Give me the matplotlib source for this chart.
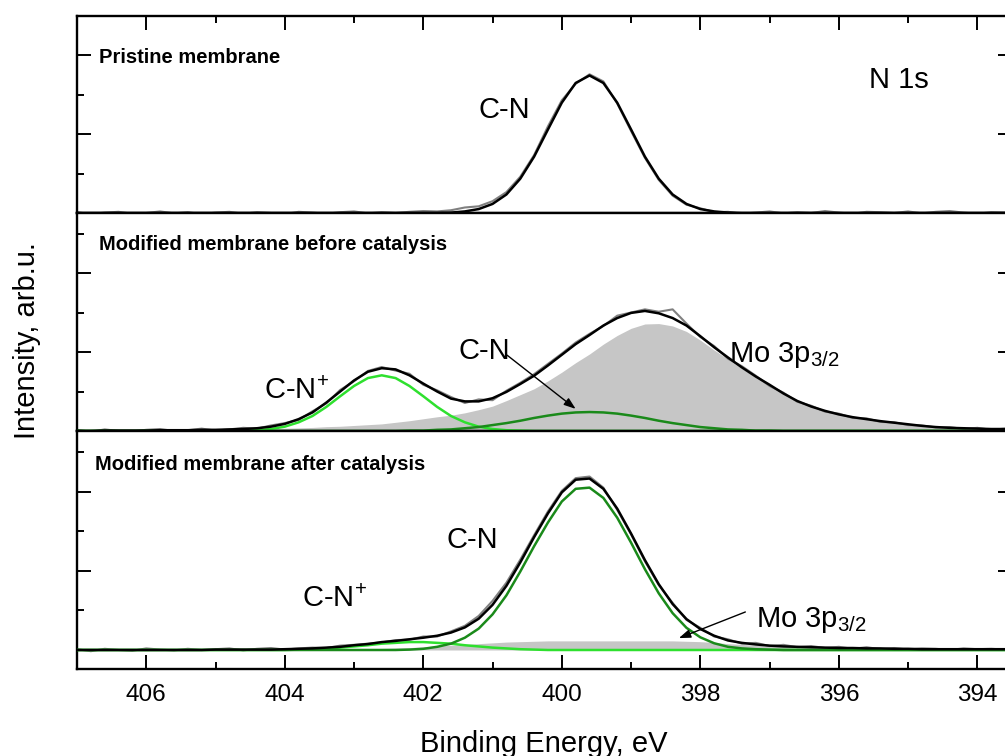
import numpy as np
import matplotlib
matplotlib.use('Agg')
import matplotlib.pyplot as plt
from matplotlib.ticker import MultipleLocator

plt.rcParams['font.family'] = ['Liberation Sans', 'DejaVu Sans']
plt.rcParams['mathtext.fontset'] = 'custom'
plt.rcParams['mathtext.rm'] = 'Liberation Sans'

# binding energy grid, eV (407.0 ... 393.6, step 0.2)
binding_energy = np.linspace(407.0, 393.6, 68)

# --- pristine membrane ---
pristine_raw = [0.02, -0.03, 0.01, 0.03, -0.02, 0.00, 0.04, -0.01, 0.02, -0.03, 0.01, 0.03,
                -0.02, 0.02, 0.00, -0.03, 0.03, 0.01, -0.02, 0.02, 0.04, -0.01, 0.02, 0.00,
                0.03, 0.05, 0.04, 0.07, 0.14, 0.17, 0.30, 0.53, 0.92, 1.47, 2.20, 2.86,
                3.28, 3.52, 3.34, 2.78, 2.08, 1.40, 0.84, 0.44, 0.21, 0.12, 0.02, 0.03,
                -0.02, 0.01, 0.04, -0.01, 0.02, 0.00, 0.05, 0.01, -0.02, 0.03, 0.02, 0.00,
                0.04, -0.01, 0.03, 0.05, 0.01, -0.02, 0.02, 0.01]
pristine_fit = [0.00, 0.00, 0.00, 0.00, 0.00, 0.00, 0.00, 0.00, 0.00, 0.00, 0.00, 0.00,
                0.00, 0.00, 0.00, 0.00, 0.00, 0.00, 0.00, 0.00, 0.00, 0.00, 0.00, 0.00,
                0.00, 0.00, 0.00, 0.01, 0.04, 0.10, 0.23, 0.47, 0.87, 1.43, 2.12, 2.80,
                3.30, 3.49, 3.30, 2.80, 2.12, 1.43, 0.87, 0.47, 0.23, 0.10, 0.04, 0.01,
                0.00, 0.00, 0.00, 0.00, 0.00, 0.00, 0.00, 0.00, 0.00, 0.00, 0.00, 0.00,
                0.00, 0.00, 0.00, 0.00, 0.00, 0.00, 0.00, 0.00]

# --- modified membrane before catalysis ---
before_raw = [0.03, -0.02, 0.04, 0.00, -0.01, 0.03, 0.05, 0.00, 0.02, 0.06, 0.01, 0.04,
              0.08, 0.06, 0.14, 0.20, 0.28, 0.50, 0.70, 1.04, 1.26, 1.52, 1.62,
              1.53, 1.45, 1.17, 1.03, 0.86, 0.71, 0.80, 0.78, 1.02, 1.22,
              1.44, 1.70, 1.96, 2.24, 2.46, 2.66, 2.92, 3.00, 3.08, 3.02,
              3.08, 2.72, 2.38, 2.15, 1.83, 1.64, 1.40, 1.14, 0.97, 0.74,
              0.64, 0.49, 0.44, 0.33, 0.32, 0.23, 0.22, 0.15, 0.14, 0.09, 0.10, 0.05,
              0.08, 0.03, 0.06]
before_fit = [0.00, 0.00, 0.01, 0.01, 0.01, 0.01, 0.02, 0.02, 0.02, 0.03, 0.03, 0.04,
              0.05, 0.07, 0.11, 0.18, 0.30, 0.47, 0.72, 1.00, 1.28, 1.50, 1.59,
              1.56, 1.41, 1.20, 1.00, 0.82, 0.75, 0.75, 0.83, 0.99, 1.19,
              1.40, 1.66, 1.93, 2.20, 2.43, 2.67, 2.86, 2.99, 3.04, 2.98,
              2.86, 2.67, 2.40, 2.12, 1.86, 1.61, 1.38, 1.17, 0.95, 0.76,
              0.62, 0.51, 0.42, 0.35, 0.30, 0.25, 0.21, 0.17, 0.13, 0.10, 0.08, 0.07,
              0.06, 0.05, 0.05]
before_mo = [0.00, 0.00, 0.01, 0.01, 0.01, 0.01, 0.02, 0.02, 0.02, 0.03, 0.03, 0.04,
             0.04, 0.05, 0.06, 0.07, 0.08, 0.09, 0.11, 0.12, 0.14, 0.16, 0.18,
             0.22, 0.26, 0.31, 0.36, 0.40, 0.46, 0.54, 0.63, 0.77, 0.92,
             1.07, 1.27, 1.49, 1.73, 1.95, 2.20, 2.42, 2.60, 2.71, 2.72,
             2.66, 2.52, 2.30, 2.05, 1.82, 1.58, 1.37, 1.16, 0.95, 0.76,
             0.62, 0.51, 0.42, 0.35, 0.30, 0.25, 0.21, 0.17, 0.13, 0.10, 0.08, 0.07,
             0.06, 0.05, 0.05]
before_cn_plus = [0.00, 0.00, 0.00, 0.00, 0.00, 0.00, 0.00, 0.00, 0.00, 0.00, 0.00, 0.00,
                  0.01, 0.02, 0.05, 0.11, 0.22, 0.38, 0.61, 0.88, 1.14, 1.34, 1.41,
                  1.34, 1.14, 0.88, 0.61, 0.38, 0.22, 0.11, 0.05, 0.02, 0.01,
                  0.00, 0.00, 0.00, 0.00, 0.00, 0.00, 0.00, 0.00, 0.00, 0.00,
                  0.00, 0.00, 0.00, 0.00, 0.00, 0.00, 0.00, 0.00, 0.00, 0.00,
                  0.00, 0.00, 0.00, 0.00, 0.00, 0.00, 0.00, 0.00, 0.00, 0.00, 0.00, 0.00,
                  0.00, 0.00, 0.00]
before_cn = [0.00, 0.00, 0.00, 0.00, 0.00, 0.00, 0.00, 0.00, 0.00, 0.00, 0.00, 0.00,
             0.00, 0.00, 0.00, 0.00, 0.00, 0.00, 0.00, 0.00, 0.00, 0.00, 0.00,
             0.00, 0.01, 0.01, 0.03, 0.04, 0.07, 0.10, 0.15, 0.20, 0.26,
             0.33, 0.39, 0.44, 0.47, 0.48, 0.47, 0.44, 0.39, 0.33, 0.26,
             0.20, 0.15, 0.10, 0.07, 0.04, 0.03, 0.01, 0.01, 0.00, 0.00,
             0.00, 0.00, 0.00, 0.00, 0.00, 0.00, 0.00, 0.00, 0.00, 0.00, 0.00, 0.00,
             0.00, 0.00, 0.00]

# --- modified membrane after catalysis ---
after_raw = [0.02, -0.03, 0.03, 0.00, -0.02, 0.04, 0.01, -0.01, 0.03, 0.00,
             0.02, 0.04, -0.01, 0.03, 0.05, 0.01, 0.04, 0.06, 0.05, 0.11,
             0.13, 0.16, 0.19, 0.25, 0.26, 0.34, 0.34, 0.47, 0.61, 0.86,
             1.24, 1.70, 2.28, 2.90, 3.50, 4.02, 4.34, 4.38, 4.10, 3.54,
             2.92, 2.24, 1.64, 1.19, 0.76, 0.56, 0.34, 0.27, 0.16, 0.18,
             0.10, 0.13, 0.07, 0.10, 0.05, 0.08, 0.03, 0.07, 0.02, 0.05,
             0.01, 0.04, 0.03, 0.00, 0.04, 0.02, 0.03, 0.01]
after_fit = [0.00, 0.00, 0.00, 0.00, 0.00, 0.00, 0.00, 0.00, 0.00, 0.00,
             0.01, 0.01, 0.01, 0.01, 0.01, 0.02, 0.03, 0.04, 0.06, 0.08,
             0.12, 0.15, 0.20, 0.23, 0.27, 0.31, 0.36, 0.44, 0.57, 0.79,
             1.14, 1.62, 2.21, 2.85, 3.45, 3.98, 4.30, 4.33, 4.07, 3.57,
             2.94, 2.27, 1.66, 1.16, 0.78, 0.53, 0.36, 0.24, 0.18, 0.14,
             0.11, 0.09, 0.08, 0.07, 0.06, 0.05, 0.05, 0.04, 0.04, 0.03,
             0.03, 0.02, 0.02, 0.02, 0.02, 0.02, 0.02, 0.02]
after_mo = [0.00, 0.00, 0.00, 0.00, 0.00, 0.00, 0.00, 0.00, 0.00, 0.00,
            0.01, 0.01, 0.01, 0.01, 0.01, 0.02, 0.02, 0.02, 0.02, 0.02,
            0.03, 0.03, 0.04, 0.05, 0.06, 0.08, 0.10, 0.12, 0.14, 0.16,
            0.18, 0.20, 0.21, 0.22, 0.23, 0.23, 0.23, 0.23, 0.23, 0.23,
            0.23, 0.23, 0.23, 0.23, 0.22, 0.21, 0.19, 0.16, 0.14, 0.12,
            0.10, 0.09, 0.08, 0.07, 0.06, 0.05, 0.05, 0.04, 0.04, 0.03,
            0.03, 0.02, 0.02, 0.02, 0.02, 0.02, 0.02, 0.02]
after_cn_plus = [0.00, 0.00, 0.00, 0.00, 0.00, 0.00, 0.00, 0.00, 0.00, 0.00,
                 0.00, 0.00, 0.00, 0.00, 0.00, 0.00, 0.01, 0.02, 0.04, 0.06,
                 0.09, 0.12, 0.16, 0.18, 0.20, 0.20, 0.18, 0.16, 0.12, 0.09,
                 0.06, 0.04, 0.02, 0.01, 0.00, 0.00, 0.00, 0.00, 0.00, 0.00,
                 0.00, 0.00, 0.00, 0.00, 0.00, 0.00, 0.00, 0.00, 0.00, 0.00,
                 0.00, 0.00, 0.00, 0.00, 0.00, 0.00, 0.00, 0.00, 0.00, 0.00,
                 0.00, 0.00, 0.00, 0.00, 0.00, 0.00, 0.00, 0.00]
after_cn = [0.00, 0.00, 0.00, 0.00, 0.00, 0.00, 0.00, 0.00, 0.00, 0.00,
            0.00, 0.00, 0.00, 0.00, 0.00, 0.00, 0.00, 0.00, 0.00, 0.00,
            0.00, 0.00, 0.00, 0.00, 0.01, 0.03, 0.08, 0.16, 0.31, 0.54,
            0.90, 1.38, 1.98, 2.62, 3.22, 3.75, 4.07, 4.10, 3.84, 3.34,
            2.71, 2.04, 1.43, 0.93, 0.56, 0.32, 0.17, 0.08, 0.04, 0.02,
            0.01, 0.00, 0.00, 0.00, 0.00, 0.00, 0.00, 0.00, 0.00, 0.00,
            0.00, 0.00, 0.00, 0.00, 0.00, 0.00, 0.00, 0.00]

RAW = '#808080'
FILL = '#c6c6c6'
LIGHT_GREEN = '#2ee02e'
DARK_GREEN = '#1a8a1a'

W, H = 1005, 756
fig = plt.figure(figsize=(W / 100, H / 100), dpi=100)


def px_axes(top, bottom, left=77, right=1012):
    return fig.add_axes([left / W, 1 - bottom / H, (right - left) / W, (bottom - top) / H])


def style_panel(ax, ylim, show_top=False, show_bottom=False):
    ax.set_xlim(407, 393.5)
    ax.set_ylim(*ylim)
    ax.xaxis.set_major_locator(MultipleLocator(2))
    ax.xaxis.set_minor_locator(MultipleLocator(1))
    ax.yaxis.set_major_locator(MultipleLocator(2))
    ax.yaxis.set_minor_locator(MultipleLocator(1))
    ax.tick_params(which='both', direction='in', left=True, right=True,
                   top=show_top, bottom=show_bottom, labelleft=False,
                   labelbottom=show_bottom, width=1.4, labelsize=17.5, pad=11)
    ax.tick_params(which='major', length=10)
    ax.tick_params(which='minor', length=5)
    for sp in ax.spines.values():
        sp.set_linewidth(1.7)


ax_top = px_axes(16, 213)
ax_mid = px_axes(213, 431)
ax_bot = px_axes(431, 669)

# top panel
ax_top.plot(binding_energy, pristine_raw, color=RAW, lw=1.5, clip_on=False, zorder=2)
ax_top.plot(binding_energy, pristine_fit, color='black', lw=1.8, zorder=4)
style_panel(ax_top, (0, 5.0), show_top=True)
ax_top.text(406.68, 3.81, 'Pristine membrane', fontsize=14.5, fontweight='bold')
ax_top.text(395.57, 3.17, 'N 1s', fontsize=21)
ax_top.text(401.21, 2.41, 'C-N', fontsize=21)

# middle panel
ax_mid.fill_between(binding_energy, 0, before_mo, color=FILL, lw=0, zorder=1)
ax_mid.plot(binding_energy, before_raw, color=RAW, lw=1.5, clip_on=False, zorder=2)
ax_mid.plot(binding_energy, before_cn_plus, color=LIGHT_GREEN, lw=1.8, zorder=3)
ax_mid.plot(binding_energy, before_cn, color=DARK_GREEN, lw=1.8, zorder=3)
ax_mid.plot(binding_energy, before_fit, color='black', lw=1.8, zorder=4)
style_panel(ax_mid, (0, 5.52))
ax_mid.text(406.68, 4.58, 'Modified membrane before catalysis', fontsize=14.5, fontweight='bold')
ax_mid.text(404.30, 0.81, r'C-N$^{\mathregular{+}}$', fontsize=21)
ax_mid.text(401.49, 1.82, 'C-N', fontsize=21)
ax_mid.text(397.59, 1.75, r'Mo 3p$_{\mathregular{3/2}}$', fontsize=21)
ax_mid.annotate('', xy=(399.80, 0.56), xytext=(400.79, 1.92),
                arrowprops=dict(arrowstyle='-|>,head_length=0.7,head_width=0.25',
                                color='black', lw=1, shrinkA=0, shrinkB=0), zorder=5)

# bottom panel
ax_bot.fill_between(binding_energy, 0, after_mo, color=FILL, lw=0, zorder=1)
ax_bot.plot(binding_energy, after_raw, color=RAW, lw=1.5, zorder=2)
ax_bot.plot(binding_energy, after_cn_plus, color=LIGHT_GREEN, lw=1.8, zorder=3)
ax_bot.plot(binding_energy, after_cn, color=DARK_GREEN, lw=1.8, zorder=3)
ax_bot.plot(binding_energy, after_fit, color='black', lw=1.8, zorder=4)
style_panel(ax_bot, (-0.48, 5.53), show_bottom=True)
ax_bot.text(406.74, 4.55, 'Modified membrane after catalysis', fontsize=14.5, fontweight='bold')
ax_bot.text(401.67, 2.58, 'C-N', fontsize=21)
ax_bot.text(403.75, 1.09, r'C-N$^{\mathregular{+}}$', fontsize=21)
ax_bot.text(397.20, 0.58, r'Mo 3p$_{\mathregular{3/2}}$', fontsize=21)
ax_bot.annotate('', xy=(398.31, 0.30), xytext=(397.35, 0.96),
                arrowprops=dict(arrowstyle='-|>,head_length=0.7,head_width=0.25',
                                color='black', lw=1, shrinkA=0, shrinkB=0), zorder=5)

fig.text(27 / W, 1 - 341 / H, 'Intensity, arb.u.', rotation=90, ha='center', va='center', fontsize=21)
fig.text(544 / W, 1 - 752 / H, 'Binding Energy, eV', ha='center', va='baseline', fontsize=21)

fig.savefig('out.png', dpi=100)
